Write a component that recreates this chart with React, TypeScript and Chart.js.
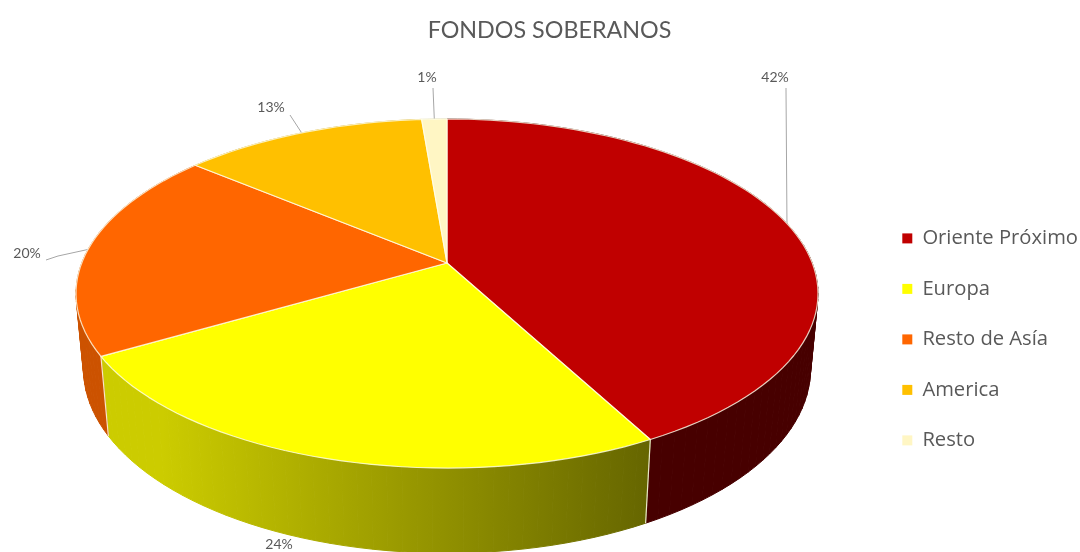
import React, { useEffect, useRef } from "react";
import { Chart, registerables } from "chart.js";

Chart.register(...registerables);

const categories = ["Oriente Próximo", "Europa", "Resto de Asía", "America", "Resto"];
const shares = [42.2, 24.4, 19.5, 12.6, 1.3];
const topColors = ["#C00000", "#FFFF00", "#FF6600", "#FFC000", "#FFF6C4"];
const wallLeft = ["#470000", "#CCCC00", "#CC5200", "#CC9A00", "#CCC59C"];
const wallRight = ["#470000", "#666600", "#CC5200", "#CC9A00", "#CCC59C"];
const chartTitle = "FONDOS SOBERANOS";

// Hand-placed percentage labels: centre of the text, then the leader polyline.
const labelLayout = [
  { x: 775, y: 77, leader: [[786, 88], [786, 90]], toRim: true },
  { x: 279, y: 544, leader: [], toRim: false },
  { x: 27, y: 253, leader: [[46, 260], [58, 256], [90, 249]], toRim: false },
  { x: 271, y: 107, leader: [[290, 115]], toRim: true },
  { x: 427, y: 77, leader: [[433, 88]], toRim: true },
];

// Perspective projection of the disc.
const AX = 447, AY = 263, A = 365.3, B = 169.2, K = 0.1748, C = 0.02, D = 76;
const project = (angle: number, level: number) => {
  const u = Math.cos(angle), v = Math.sin(angle);
  const w = 1 - K * v + level * C;
  return { x: AX + (A * u) / w, y: AY + (B * v + level * D) / w };
};
const STEPS = 90;

const pie3d = {
  id: "pie3d",
  afterLayout(chart: any) {
    const l = chart.legend;
    const h = l.height, wd = l.width;
    l.left = 872; l.right = 872 + wd; l.top = 198; l.bottom = 198 + h;
  },
  beforeDatasetsDraw(chart: any) {
    const ctx = chart.ctx;
    const arcs = chart.getDatasetMeta(0).data;
    ctx.save();
    ctx.lineJoin = "round";
    // side walls
    arcs.forEach((arc: any, i: number) => {
      const { startAngle: s, endAngle: e } = arc;
      const pts0 = [], pts1 = [];
      const n = Math.max(4, Math.ceil(((e - s) / (2 * Math.PI)) * STEPS * 2));
      for (let k = 0; k <= n; k++) {
        const a = s + ((e - s) * k) / n;
        pts0.push(project(a, 0)); pts1.push(project(a, 1));
      }
      const xs = pts1.filter((_, k) => Math.sin(s + ((e - s) * k) / n) > 0).map((p) => p.x);
      const x0 = xs.length ? Math.min(...xs) : 0, x1 = xs.length ? Math.max(...xs) : 1;
      const g = ctx.createLinearGradient(x0, 0, x1 + 1, 0);
      g.addColorStop(0.1, wallLeft[i]);
      g.addColorStop(1, wallRight[i]);
      ctx.fillStyle = g; ctx.strokeStyle = g; ctx.lineWidth = 1;
      for (let k = 0; k < n; k++) {
        ctx.beginPath();
        ctx.moveTo(pts0[k].x, pts0[k].y);
        ctx.lineTo(pts0[k + 1].x, pts0[k + 1].y);
        ctx.lineTo(pts1[k + 1].x, pts1[k + 1].y);
        ctx.lineTo(pts1[k].x, pts1[k].y);
        ctx.closePath();
        ctx.fill(); ctx.stroke();
      }
    });
    // vertical edges of the walls
    arcs.forEach((arc: any) => {
      if (Math.sin(arc.startAngle) <= 0.05) return;
      const p = project(arc.startAngle, 0), q = project(arc.startAngle, 1);
      ctx.strokeStyle = "rgba(255,255,235,0.85)"; ctx.lineWidth = 1.2;
      ctx.beginPath(); ctx.moveTo(p.x, p.y); ctx.lineTo(q.x, q.y); ctx.stroke();
    });
    // leaders
    ctx.strokeStyle = "#A6A6A6"; ctx.lineWidth = 1;
    arcs.forEach((arc: any, i: number) => {
      const lay = labelLayout[i];
      if (!lay.leader.length) return;
      ctx.beginPath();
      lay.leader.forEach((pt, k) => (k ? ctx.lineTo(pt[0], pt[1]) : ctx.moveTo(pt[0], pt[1])));
      if (lay.toRim) {
        const r = project((arc.startAngle + arc.endAngle) / 2, 0);
        ctx.lineTo(r.x, r.y);
      }
      ctx.stroke();
    });
    // top faces
    arcs.forEach((arc: any, i: number) => {
      const { startAngle: s, endAngle: e } = arc;
      const n = Math.max(4, Math.ceil(((e - s) / (2 * Math.PI)) * STEPS * 2));
      ctx.beginPath();
      ctx.moveTo(AX, AY);
      for (let k = 0; k <= n; k++) {
        const p = project(s + ((e - s) * k) / n, 0);
        ctx.lineTo(p.x, p.y);
      }
      ctx.closePath();
      ctx.fillStyle = topColors[i];
      ctx.fill();
      ctx.strokeStyle = "rgba(255,255,235,0.8)"; ctx.lineWidth = 1.2;
      ctx.stroke();
    });
    // percentage labels
    ctx.fillStyle = "#595959";
    ctx.font = "14px Lato";
    ctx.textAlign = "center"; ctx.textBaseline = "middle";
    arcs.forEach((_: any, i: number) => {
      ctx.fillText(`${Math.round(shares[i])}%`, labelLayout[i].x, labelLayout[i].y);
    });
    ctx.restore();
    return false;
  },
};

export default function App() {
  const ref = useRef<HTMLCanvasElement | null>(null);
  useEffect(() => {
    document.body.style.margin = "0";
    document.body.style.background = "#fff";
    const chart = new Chart(ref.current as HTMLCanvasElement, {
      type: "pie",
      data: {
        labels: categories,
        datasets: [{ data: shares, backgroundColor: topColors, borderWidth: 0 }],
      },
      options: {
        responsive: false,
        animation: false,
        layout: { padding: { left: 19, top: 0, right: 0, bottom: 0 } },
        plugins: {
          title: {
            display: true,
            text: chartTitle,
            color: "#595959",
            font: { family: "Lato", size: 23.3, weight: "normal" },
            padding: { top: 16, bottom: 10 },
          },
          legend: {
            position: "right",
            align: "start",
            labels: {
              boxWidth: 10,
              boxHeight: 10,
              padding: 30.3,
              color: "#595959",
              font: { family: "Open Sans", size: 20.2 },
            },
          },
          tooltip: { enabled: false },
        },
      },
      plugins: [pie3d],
    } as any);
    return () => chart.destroy();
  }, []);
  return <canvas ref={ref} width={1080} height={552} style={{ display: "block", filter: "blur(0.5px)" }} />;
}
